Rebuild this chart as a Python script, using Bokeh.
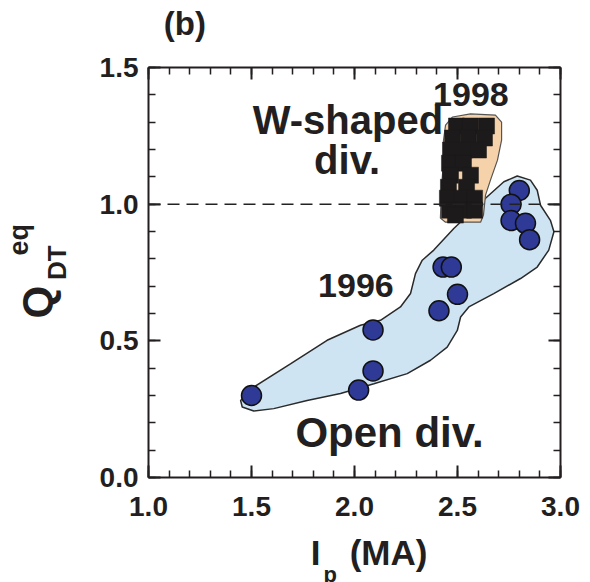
from bokeh.plotting import figure
from bokeh.models import (Label, Title, Span, LinearAxis, SingleIntervalTicker,
                          PrintfTickFormatter, CustomJSTickFormatter, Range1d)
from bokeh.embed import file_html
from bokeh.resources import INLINE

# ---- data ----
# 1996 open divertor shots (Ip in MA, Q_DT^eq)
open_ip = [1.50, 2.02, 2.09, 2.09, 2.41, 2.50, 2.43, 2.47, 2.80, 2.76, 2.76, 2.83, 2.85]
open_q  = [0.30, 0.32, 0.39, 0.54, 0.61, 0.67, 0.77, 0.77, 1.05, 1.00, 0.94, 0.93, 0.87]

# 1998 W-shaped divertor shots
w_ip = [2.495, 2.563, 2.641, 2.476, 2.553, 2.631, 2.466, 2.534, 2.602,
        2.461, 2.529, 2.466, 2.563, 2.456, 2.544,
        2.451, 2.524, 2.583, 2.461, 2.529, 2.583, 2.490]
w_q  = [1.286, 1.286, 1.286, 1.242, 1.242, 1.242, 1.198, 1.198, 1.198,
        1.150, 1.150, 1.106, 1.106, 1.062, 1.062,
        1.022, 1.022, 1.022, 0.978, 0.978, 0.978, 0.960]

# envelope of the 1996 (open divertor) region
open_env_ip = [1.447, 1.511, 1.689, 1.867, 2.029, 2.126, 2.223, 2.272, 2.296, 2.329,
               2.385, 2.482, 2.644, 2.725, 2.790, 2.854, 2.887, 2.903, 2.951, 2.968,
               2.943, 2.887, 2.806, 2.676, 2.555, 2.515, 2.499, 2.450, 2.369, 2.256,
               2.094, 1.932, 1.770, 1.608, 1.511, 1.455]
open_env_q = [0.282, 0.331, 0.416, 0.502, 0.557, 0.575, 0.624, 0.673, 0.746, 0.795,
              0.832, 0.911, 1.027, 1.082, 1.103, 1.088, 1.051, 0.996, 0.941, 0.899,
              0.832, 0.770, 0.728, 0.673, 0.624, 0.587, 0.538, 0.477, 0.429, 0.380,
              0.343, 0.307, 0.282, 0.252, 0.243, 0.258]

# envelope of the 1998 (W-shaped divertor) region
w_env_ip = [2.442, 2.476, 2.563, 2.684, 2.714, 2.714, 2.694, 2.660, 2.636, 2.626,
            2.612, 2.442, 2.417, 2.422, 2.432, 2.432]
w_env_q = [1.289, 1.319, 1.330, 1.326, 1.300, 1.234, 1.161, 1.088, 1.033, 0.960,
           0.934, 0.934, 0.949, 1.051, 1.161, 1.234]

q_threshold = 1.0

TXT = "#231f20"
FONT = "Liberation Sans"
W, H = 590, 582
NB = "\u00a0"
EM = "\u2003"
THIN = "\u2009"

p = figure(width=W, height=H, x_range=Range1d(1.0, 3.0), y_range=Range1d(0.0, 1.5),
           output_backend="svg", toolbar_location=None, title=None,
           min_border_left=148, min_border_right=30, min_border_top=67, min_border_bottom=105,
           x_axis_location=None, y_axis_location=None)
p.grid.visible = False
p.outline_line_color = None
p.background_fill_color = "white"
p.border_fill_color = "white"


def make_axis(show_labels):
    ax = LinearAxis(ticker=SingleIntervalTicker(interval=0.5, num_minor_ticks=5))
    ax.axis_line_width = 2
    ax.axis_line_color = TXT
    ax.major_tick_line_width = 2
    ax.major_tick_line_color = TXT
    ax.minor_tick_line_width = 1.5
    ax.minor_tick_line_color = TXT
    ax.major_tick_in = 12
    ax.major_tick_out = 0
    ax.minor_tick_in = 7
    ax.minor_tick_out = 0
    ax.major_label_text_font = FONT
    ax.major_label_text_font_style = "bold"
    ax.major_label_text_color = TXT
    ax.axis_label_text_font = FONT
    ax.axis_label_text_font_style = "bold"
    ax.axis_label_text_color = TXT
    if show_labels:
        ax.formatter = PrintfTickFormatter(format="%.1f")
        ax.major_label_text_font_size = "28px"
    else:
        ax.formatter = CustomJSTickFormatter(code="return ''")
        ax.major_label_standoff = 0
    return ax


bottom = make_axis(True)
bottom.major_label_standoff = 19
bottom.axis_label = NB * 3 + "I" + NB * 3 + "(MA)"
bottom.axis_label_text_font_size = "35px"
bottom.axis_label_standoff = 14

left = make_axis(True)
left.major_label_standoff = 10
left.axis_label = NB * 2 + THIN + "DT"
left.axis_label_text_font_size = "26px"
left.axis_label_standoff = 25

top = make_axis(False)
top.axis_label = "(b)" + EM * 10 + NB
top.axis_label_text_font_size = "33px"
top.axis_label_standoff = 26

right = make_axis(False)

p.add_layout(bottom, "below")
p.add_layout(left, "left")
p.add_layout(top, "above")
p.add_layout(right, "right")


def side_title(t, size, offset, standoff, valign):
    return Title(text=t, align="left", offset=offset, standoff=standoff,
                 vertical_align=valign, text_font=FONT, text_font_size=size,
                 text_font_style="bold", text_color=TXT)


# y-axis label: Q with superscript eq (subscript DT is the axis label)
p.add_layout(side_title("Q", "42px", 159, -44, "bottom"), "left")
p.add_layout(side_title("eq", "27px", 222, 0, "bottom"), "left")
# x-axis label subscript p
p.add_layout(side_title("p", "22px", 175, -26, "top"), "below")

# regions
p.patch(open_env_ip, open_env_q, fill_color="#cfe4f2", line_color="#2a2a2a", line_width=1.5)
p.patch(w_env_ip, w_env_q, fill_color="#f6d2ab", line_color="#555555", line_width=1.2)

# points
p.scatter(w_ip, w_q, marker="square", size=16, fill_color="#1c1a1b", line_color="#1c1a1b",
          line_width=0.5)
p.scatter(open_ip, open_q, marker="circle", size=20, fill_color="#2e3a96",
          line_color="#111111", line_width=1.5)

p.add_layout(Span(location=q_threshold, dimension="width", line_color="#222222",
                  line_width=1.5, line_dash="12 7"))


def lab(x, y, t, size, align="center"):
    p.add_layout(Label(x=x, y=y, text=t, text_font=FONT, text_font_size=size,
                       text_font_style="bold", text_color=TXT, text_align=align,
                       text_baseline="alphabetic"))


lab(2.565, 1.402, "1998", "34px")
lab(1.968, 1.307, "W-shaped", "40px")
lab(1.964, 1.160, "div.", "40px")
lab(2.007, 0.702, "1996", "34px")
lab(2.170, 0.163, "Open div.", "42px")

open("out.html", "w").write(file_html(p, INLINE))
